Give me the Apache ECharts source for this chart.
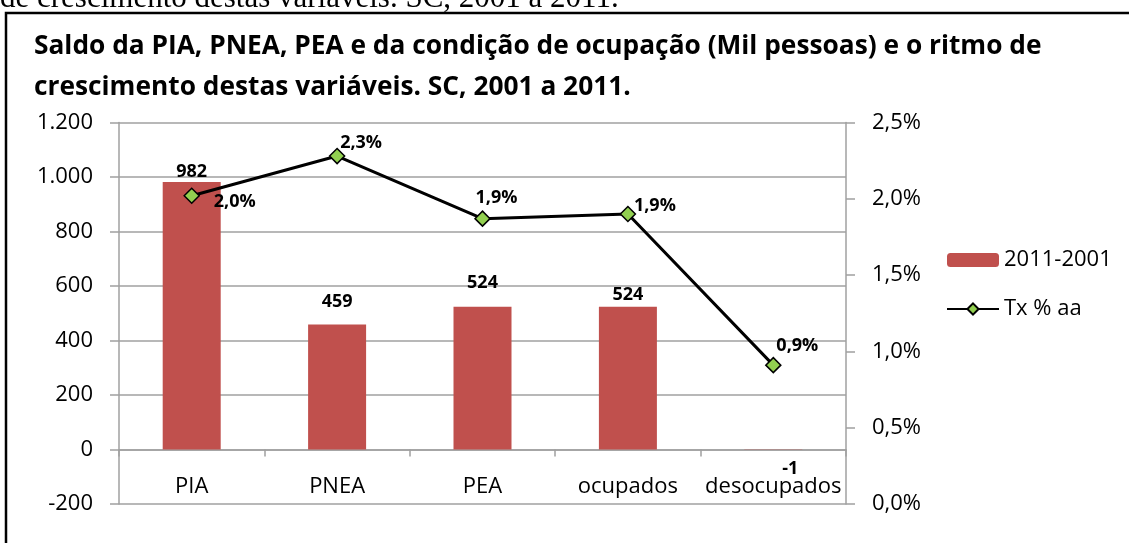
<!DOCTYPE html>
<html>
<head>
<meta charset="utf-8">
<script src="https://cdn.jsdelivr.net/npm/echarts@6/dist/echarts.min.js"></script>
<style>
html,body{margin:0;padding:0;background:#fff;}
#chart{width:1129px;height:543px;}
</style>
</head>
<body>
<div id="chart"></div>
<script>
const categories = ['PIA', 'PNEA', 'PEA', 'ocupados', 'desocupados'];
const saldo = [982, 459, 524, 524, -1];
const taxa = [2.02, 2.28, 1.87, 1.90, 0.91];
const seriesNames = ['2011-2001', 'Tx % aa'];
const titleText = 'Saldo da PIA, PNEA, PEA e da condição de ocupação (Mil pessoas) e o ritmo de\ncrescimento destas variáveis. SC, 2001 a 2011.';
const captionText = 'de crescimento destas variáveis. SC, 2001 a 2011.';

// label placement (styling, not data)
const barLabelOffsets = [[0, -1], [0, -14], [0, -15], [0, -3], [17, 28]];
const lineLabelOffsets = [[43, 6], [24, -13], [14, -21], [27, -8], [24, -19]];

const FONT = '"Open Sans", sans-serif';
const GRAY = '#a0a0a0';

function thousands(v) {
  return String(v).replace(/\B(?=(\d{3})+(?!\d))/g, '.');
}
function pct(v) {
  return v.toFixed(1).replace('.', ',') + '%';
}

const chart = echarts.init(document.getElementById('chart'), null, {renderer: 'canvas'});
chart.setOption({
  backgroundColor: '#fff',
  animation: false,
  title: {
    text: titleText,
    left: 29,
    top: 21,
    textStyle: {fontFamily: FONT, fontWeight: 'bold', fontSize: 26.3, color: '#000', lineHeight: 41}
  },
  graphic: [
    {
      type: 'text', left: 0, top: -17,
      style: {text: captionText, font: '31px "Liberation Serif", serif', fill: '#000'}
    },
    {
      type: 'rect', shape: {x: 6, y: 13, width: 1300, height: 700},
      style: {fill: 'none', stroke: '#000', lineWidth: 2.5}, z: -1
    }
  ],
  legend: {
    orient: 'vertical',
    left: 941,
    top: 244,
    itemWidth: 52,
    itemHeight: 14,
    itemGap: 27,
    textStyle: {fontFamily: FONT, fontSize: 22, color: '#000'},
    data: seriesNames
  },
  grid: {left: 119, right: 283, top: 122.5, bottom: 39, containLabel: false, outerBoundsMode: 'none'},
  xAxis: {
    type: 'category',
    data: categories,
    axisLine: {onZero: true, lineStyle: {color: GRAY, width: 1.5}},
    axisTick: {show: true, length: 7, interval: 0, lineStyle: {color: GRAY, width: 1.5}},
    axisLabel: {interval: 0, margin: -28, fontFamily: FONT, fontSize: 22, color: '#000'},
    splitLine: {show: false}
  },
  yAxis: [
    {
      type: 'value', min: -200, max: 1200, interval: 200,
      axisLine: {show: true, lineStyle: {color: GRAY, width: 1.5}},
      axisTick: {show: true, length: 9, lineStyle: {color: GRAY, width: 1.5}},
      axisLabel: {margin: 26, fontFamily: FONT, fontSize: 22, color: '#000', formatter: thousands},
      splitLine: {show: true, lineStyle: {color: GRAY, width: 1.5}}
    },
    {
      type: 'value', min: 0, max: 2.5, interval: 0.5, position: 'right',
      axisLine: {show: true, lineStyle: {color: GRAY, width: 1.5}},
      axisTick: {show: true, length: 9, lineStyle: {color: GRAY, width: 1.5}},
      axisLabel: {margin: 26, fontFamily: FONT, fontSize: 22, color: '#000', formatter: pct},
      splitLine: {show: false}
    }
  ],
  series: [
    {
      name: seriesNames[0],
      type: 'bar',
      yAxisIndex: 0,
      barWidth: 58,
      itemStyle: {color: '#C0504D'},
      label: {
        show: true, position: 'top', distance: 0,
        fontFamily: FONT, fontWeight: 'bold', fontSize: 18, color: '#000',
        formatter: p => String(p.value)
      },
      data: saldo.map((v, i) => ({value: v, label: {offset: barLabelOffsets[i]}})),
      z: 2
    },
    {
      name: seriesNames[1],
      type: 'line',
      yAxisIndex: 1,
      symbol: 'diamond',
      symbolSize: 15,
      lineStyle: {color: '#000', width: 3},
      itemStyle: {color: '#92D050', borderColor: '#000', borderWidth: 1.5},
      label: {
        show: true, position: 'inside',
        fontFamily: FONT, fontWeight: 'bold', fontSize: 18, color: '#000',
        formatter: p => pct(p.value)
      },
      data: taxa.map((v, i) => ({value: v, label: {offset: lineLabelOffsets[i]}})),
      z: 5
    }
  ]
});
</script>
</body>
</html>
